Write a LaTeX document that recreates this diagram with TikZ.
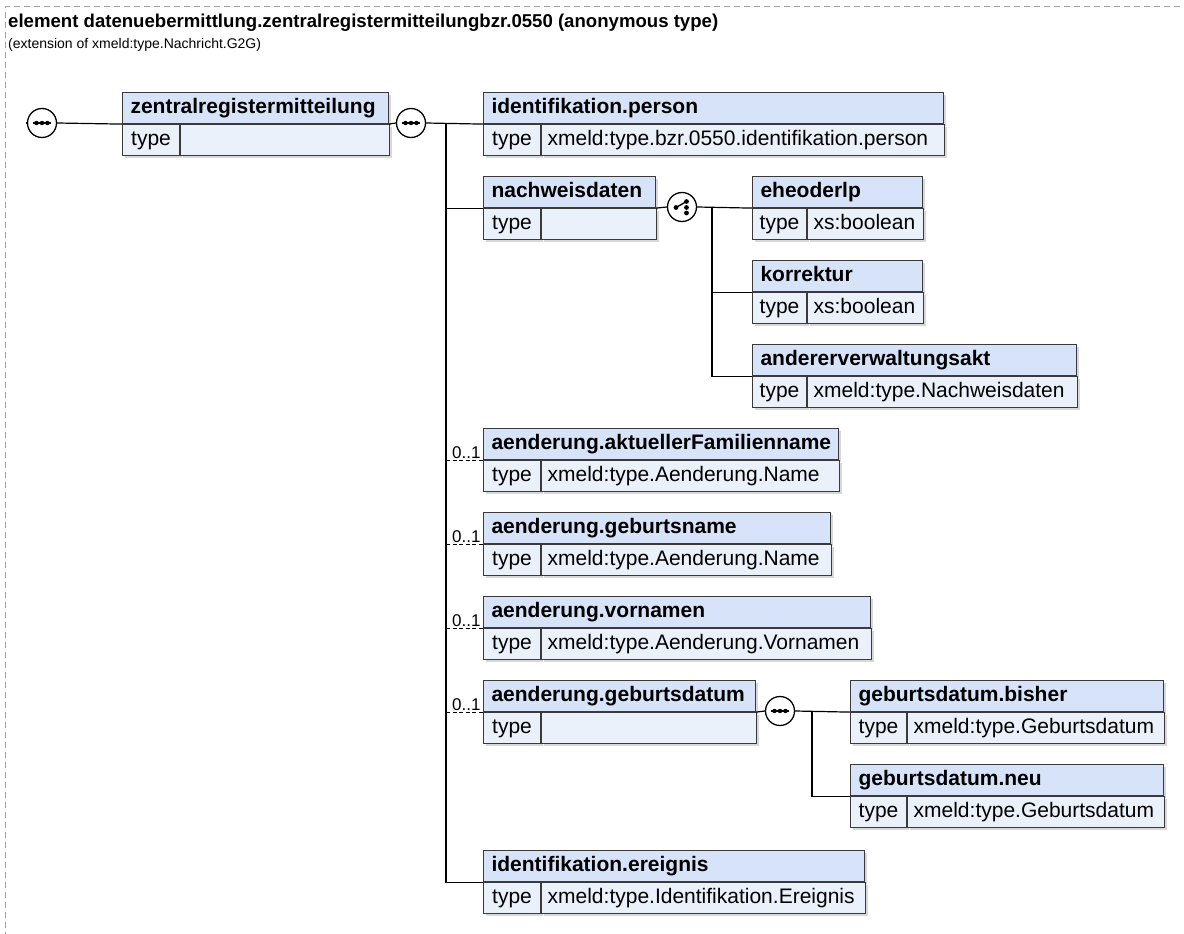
\documentclass[tikz,border=0pt]{standalone}
\usepackage{fontspec}
\setmainfont{Liberation Sans}
\usetikzlibrary{shadows}

\definecolor{hdrfill}{HTML}{D6E3F8}
\definecolor{typfill}{HTML}{EBF1FB}
\definecolor{boxline}{HTML}{3A3A3A}
\definecolor{framegray}{HTML}{A0A0A0}

% element box: name, top-left, width, title, type cell width, type
\newcommand{\xsdelem}[6]{%
  \pgfmathsetmacro{\hdrw}{#3-16}%
  \pgfmathsetmacro{\valw}{#3-#5-12}%
  \node[hdr, text width=\hdrw pt] (#1) at #2 {#4};
  \node[typ, minimum width=#5pt] (#1-t) at (#1.south west) {type};
  \node[typ, text width=\valw pt, inner xsep=6pt, align=left] (#1-v) at (#1-t.north east) {#6};
}

\begin{document}
\begin{tikzpicture}[x=1pt, y=-1pt,
    hdr/.style={draw=boxline, line width=1.1pt, fill=hdrfill, anchor=north west, inner xsep=8pt, inner ysep=0pt,
      minimum height=31pt, text height=15pt, text depth=5pt, align=left,
      font=\fontsize{21}{25}\selectfont\bfseries,
      drop shadow={shadow xshift=2pt, shadow yshift=-2pt, fill=black!30}},
    typ/.style={draw=boxline, line width=1.1pt, fill=typfill, anchor=north west, inner ysep=0pt,
      minimum height=31pt, text height=15pt, text depth=5pt,
      font=\fontsize{21}{25}\selectfont,
      drop shadow={shadow xshift=2pt, shadow yshift=-2pt, fill=black!30}},
    seq/.style={circle, draw=black, line width=1.3pt, fill=white, minimum size=29pt, inner sep=0pt,
      path picture={
        \draw[draw=black, line width=1.2pt] ([xshift=-9pt]path picture bounding box.center) -- ([xshift=9pt]path picture bounding box.center);
        \foreach \d in {-5.5,0,5.5}
          \fill[fill=black] ([xshift=\d pt]path picture bounding box.center) circle (2.2pt);
      }},
    choice/.style={circle, draw=black, line width=1.3pt, fill=white, minimum size=29pt, inner sep=0pt,
      path picture={
        \draw[draw=black, line width=1.4pt] ([shift={(-6pt,-0.5pt)}]path picture bounding box.center) -- ([shift={(4.5pt,5.5pt)}]path picture bounding box.center);
        \foreach \p in {(-6pt,-0.5pt),(4.5pt,5.5pt),(4.5pt,-0.5pt),(4.5pt,-6pt)}
          \fill[fill=black] ([shift={\p}]path picture bounding box.center) circle (2.4pt);
      }},
    conn/.style={line width=1.2pt},
    opt/.style={line width=1.2pt, dash pattern=on 4pt off 2.5pt},
    card/.style={above, pos=0.55, inner sep=1pt, font=\fontsize{17}{19}\selectfont}
]
\useasboundingbox (0,0) rectangle (1184,934);
\draw[framegray, line width=1pt, dash pattern=on 6pt off 4pt] (1190,7) -- (5,7) -- (5,940);

\node[anchor=base west, inner sep=0pt, font=\fontsize{18.6}{22}\selectfont\bfseries] (title) at (8,28)
  {element datenuebermittlung.zentralregistermitteilungbzr.0550 (anonymous type)};
\node[anchor=base west, inner sep=0pt, font=\fontsize{14}{17}\selectfont] (subtitle) at (8,49)
  {(extension of xmeld:type.Nachricht.G2G)};

% root element
\coordinate (in) at (26,123);
\node[seq] (s0) at (42,123) {};
\xsdelem{zr}{(122,92)}{266}{zentralregistermitteilung}{57}{}
\node[seq] (s1) at (411,123) {};
\coordinate (j1) at (446,123);

% children of the sequence
\xsdelem{idp}{(483,92)}{460}{identifikation.person}{57}{xmeld:type.bzr.0550.identifikation.person}
\xsdelem{nw}{(483,176)}{172}{nachweisdaten}{57}{}
\xsdelem{afn}{(483,428)}{355}{aenderung.aktuellerFamilienname}{57}{xmeld:type.Aenderung.Name}
\xsdelem{gbn}{(483,512)}{347}{aenderung.geburtsname}{57}{xmeld:type.Aenderung.Name}
\xsdelem{vn}{(483,596)}{387}{aenderung.vornamen}{57}{xmeld:type.Aenderung.Vornamen}
\xsdelem{gbd}{(483,680)}{272}{aenderung.geburtsdatum}{57}{}
\xsdelem{ide}{(483,850)}{381}{identifikation.ereignis}{57}{xmeld:type.Identifikation.Ereignis}

% choice under nachweisdaten
\node[choice] (ch) at (682,207) {};
\coordinate (j2) at (712,207);
\xsdelem{ehe}{(752,176)}{170}{eheoderlp}{54}{xs:boolean}
\xsdelem{kor}{(752,260)}{170}{korrektur}{54}{xs:boolean}
\xsdelem{aa}{(752,344)}{324}{andererverwaltungsakt}{54}{xmeld:type.Nachweisdaten}

% sequence under aenderung.geburtsdatum
\node[seq] (s2) at (780,711) {};
\coordinate (j3) at (812,711);
\xsdelem{gbb}{(850,680)}{313}{geburtsdatum.bisher}{56}{xmeld:type.Geburtsdatum}
\xsdelem{gbneu}{(850,764)}{313}{geburtsdatum.neu}{56}{xmeld:type.Geburtsdatum}

% connectors
\draw[conn] (in) -- (s0.west);
\draw[conn] (s0.east) -- (zr.south west);
\draw[conn] (zr.south east) -- (s1.west);
\draw[conn] (s1.east) -- (idp.south west);
\draw[conn] (j1) |- (ide.south west);
\draw[conn] (j1) |- (nw.south west);
\foreach \c in {afn,gbn,vn,gbd}
  \draw[opt] (j1 |- \c.south west) -- node[card] {0..1} (\c.south west);

\draw[conn] (nw.south east) -- (ch.west);
\draw[conn] (ch.east) -- (ehe.south west);
\draw[conn] (j2) |- (kor.south west);
\draw[conn] (j2) |- (aa.south west);

\draw[conn] (gbd.south east) -- (s2.west);
\draw[conn] (s2.east) -- (gbb.south west);
\draw[conn] (j3) |- (gbneu.south west);
\end{tikzpicture}
\end{document}
